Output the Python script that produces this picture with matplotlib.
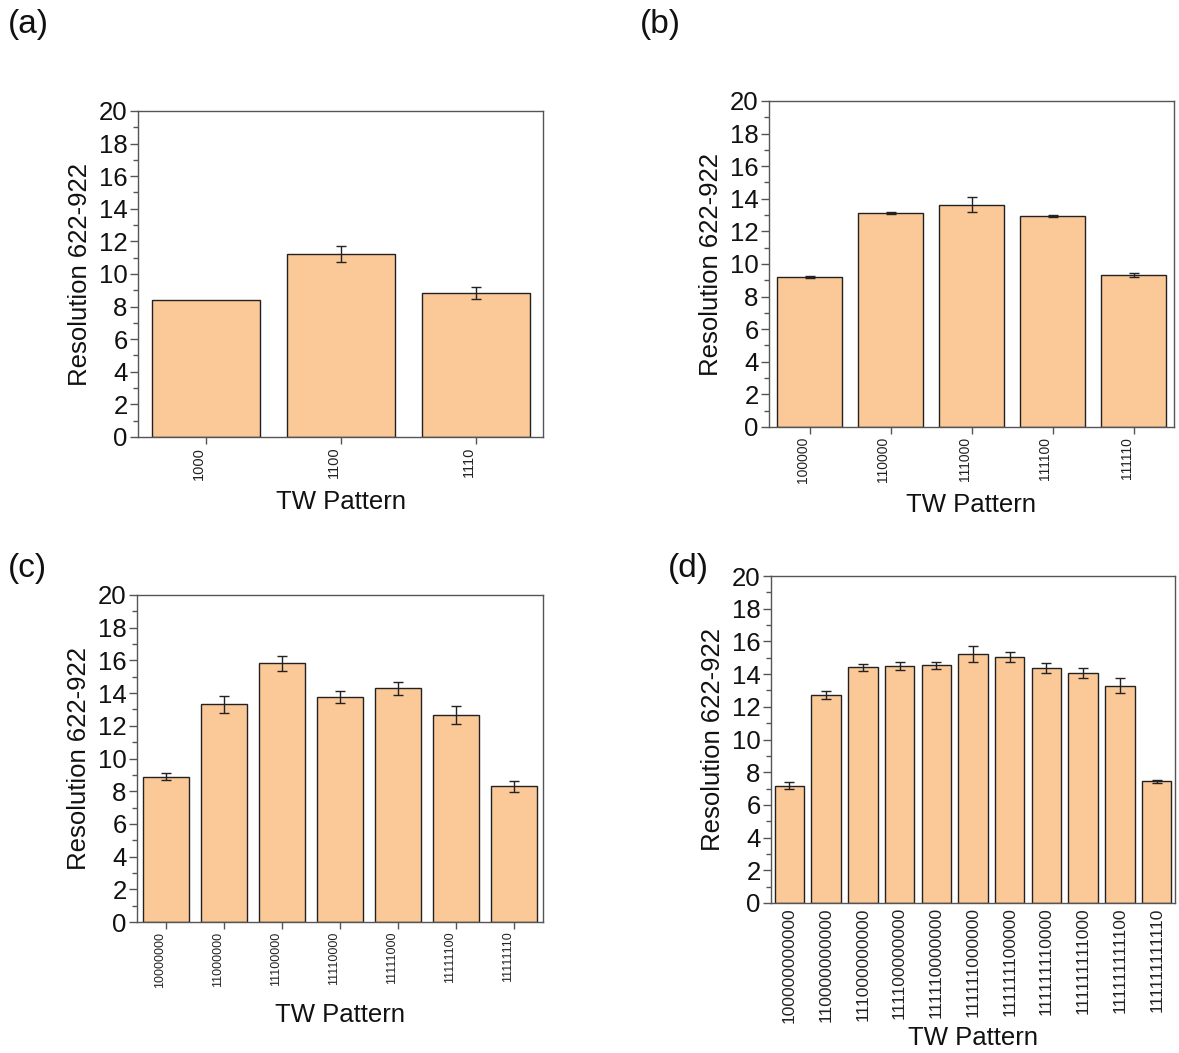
import matplotlib
matplotlib.use("Agg")
import matplotlib.pyplot as plt
from matplotlib.ticker import MultipleLocator

plt.rcParams['font.family'] = ['Liberation Sans', 'DejaVu Sans']

# Data
cats_a = ["1000", "1100", "1110"]
vals_a = [8.39, 11.23, 8.85]
errs_a = [0.0, 0.47, 0.38]

cats_b = ["100000", "110000", "111000", "111100", "111110"]
vals_b = [9.20, 13.13, 13.64, 12.96, 9.32]
errs_b = [0.08, 0.08, 0.45, 0.07, 0.14]

cats_c = ["10000000", "11000000", "11100000", "11110000", "11111000", "11111100", "11111110"]
vals_c = [8.88, 13.31, 15.82, 13.78, 14.29, 12.68, 8.29]
errs_c = [0.21, 0.53, 0.45, 0.37, 0.39, 0.54, 0.34]

cats_d = ["100000000000", "110000000000", "111000000000", "111100000000",
          "111110000000", "111111000000", "111111100000", "111111110000",
          "111111111000", "111111111100", "111111111110"]
vals_d = [7.17, 12.71, 14.42, 14.48, 14.54, 15.21, 15.05, 14.38, 14.07, 13.29, 7.45]
errs_d = [0.22, 0.24, 0.20, 0.25, 0.22, 0.50, 0.30, 0.30, 0.28, 0.46, 0.09]

W, H = 1179, 1053
fig = plt.figure(figsize=(W / 100, H / 100), dpi=100)

def ax_at(l, r, t, b):
    return fig.add_axes([l / W, 1 - b / H, (r - l) / W, (b - t) / H])

panels = [
    ("(a)", (138, 543, 111, 437), cats_a, vals_a, errs_a, 10.5, True, (8, 25), 502),
    ("(b)", (769, 1174, 101, 427), cats_b, vals_b, errs_b, 10, True, (640, 25), 505),
    ("(c)", (137, 543, 595, 922), cats_c, vals_c, errs_c, 9, True, (8, 568), 1015),
    ("(d)", (771, 1175, 576, 903), cats_d, vals_d, errs_d, 12.6, False, (668, 568), 1038),
]

bar_color = '#FBC898'
spine_color = '#555555'

for label, (l, r, t, b), cats, vals, errs, tfs, xticks_on, (lx, ly), xly in panels:
    ax = ax_at(l, r, t, b)
    x = list(range(len(cats)))
    ax.bar(x, vals, width=0.8, color=bar_color, edgecolor='#222222', linewidth=1.0, zorder=2)
    ex = [xi for xi, e in zip(x, errs) if e > 0]
    ev = [v for v, e in zip(vals, errs) if e > 0]
    ee = [e for e in errs if e > 0]
    ax.errorbar(ex, ev, yerr=ee, fmt='none', ecolor='#222222', elinewidth=1.0,
                capsize=3.5, capthick=1.0, zorder=3)
    ax.set_xlim(-0.5, len(cats) - 0.5)
    ax.set_ylim(0, 20)
    ax.yaxis.set_major_locator(MultipleLocator(2))
    ax.yaxis.set_minor_locator(MultipleLocator(1))
    ax.set_xticks(x)
    ax.set_xticklabels(cats, rotation=90, fontsize=tfs, ha='right' if xticks_on else 'center',
                       va='top', color='#222222')
    ax.tick_params(axis='y', which='major', direction='out', length=6, width=1,
                   labelsize=18.5, colors=spine_color, labelcolor='#111111', pad=1.5)
    ax.tick_params(axis='y', which='minor', direction='out', length=3.5, width=1,
                   colors=spine_color)
    if xticks_on:
        ax.tick_params(axis='x', which='major', direction='out', length=5, width=1,
                       colors=spine_color, labelcolor='#222222', pad=2)
    else:
        ax.tick_params(axis='x', which='major', length=0, labelcolor='#222222', pad=3)
    for s in ax.spines.values():
        s.set_color(spine_color)
        s.set_linewidth(1.0)
    ax.set_ylabel("Resolution 622-922", fontsize=18.5, color='#111111', labelpad=5)
    fig.text(((l + r) / 2) / W, 1 - xly / H, "TW Pattern", fontsize=18.5,
             ha='center', va='center', color='#111111')
    fig.text(lx / W, 1 - ly / H, label, fontsize=24, ha='left', va='center', color='#111111')

fig.savefig("out.png", dpi=100)
